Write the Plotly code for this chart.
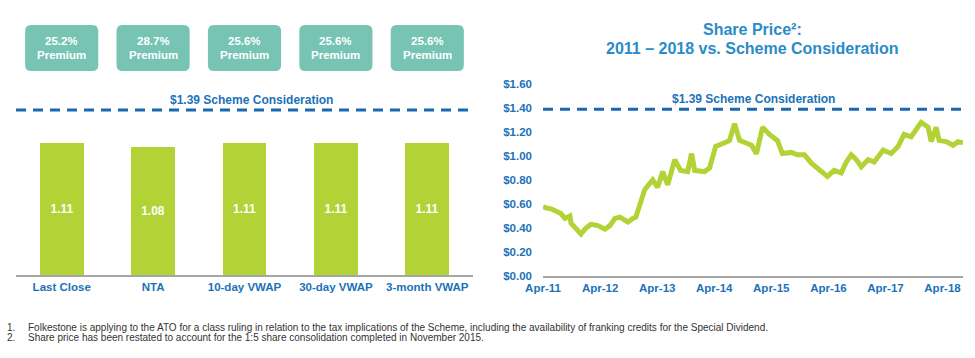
import plotly.graph_objects as go

# ---------------- data ----------------
categories = ["Last Close", "NTA", "10-day VWAP", "30-day VWAP", "3-month VWAP"]
bar_values = [1.11, 1.08, 1.11, 1.11, 1.11]
premiums = ["25.2%", "28.7%", "25.6%", "25.6%", "25.6%"]
scheme_consideration = 1.39

price_dates = [
    "2011-04-01", "2011-04-14", "2011-05-22", "2011-06-23", "2011-07-25", "2011-08-19",
    "2011-09-20", "2011-09-27", "2011-10-29", "2011-11-30", "2012-01-01", "2012-02-01",
    "2012-03-17", "2012-05-01", "2012-06-02", "2012-07-04", "2012-08-05", "2012-09-25",
    "2012-10-27", "2012-11-15", "2012-12-10", "2013-01-11", "2013-03-03", "2013-04-04",
    "2013-05-06", "2013-06-07", "2013-07-22", "2013-08-29", "2013-10-13", "2013-11-07",
    "2013-11-27", "2014-01-29", "2014-03-02", "2014-04-10", "2014-06-06", "2014-07-08",
    "2014-08-09", "2014-09-10", "2014-10-18", "2014-11-25", "2014-12-27", "2015-02-04",
    "2015-03-20", "2015-05-10", "2015-06-11", "2015-08-08", "2015-09-15", "2015-10-30",
    "2015-12-14", "2016-01-14", "2016-02-15", "2016-03-25", "2016-05-08", "2016-06-22",
    "2016-07-24", "2016-08-25", "2016-09-26", "2016-10-28", "2016-12-11", "2017-01-19",
    "2017-03-17", "2017-05-07", "2017-06-21", "2017-07-29", "2017-09-12", "2017-10-27",
    "2017-11-15", "2017-12-30", "2018-01-18", "2018-02-19", "2018-03-10", "2018-04-24",
    "2018-06-07", "2018-07-09", "2018-08-10",
]
price_values = [
    0.58, 0.57, 0.56, 0.54, 0.52, 0.48,
    0.50, 0.44, 0.40, 0.35, 0.40, 0.43,
    0.42, 0.39, 0.42, 0.48, 0.49, 0.45,
    0.48, 0.49, 0.59, 0.72, 0.80, 0.74,
    0.87, 0.76, 0.97, 0.88, 0.87, 1.02,
    0.88, 0.87, 0.90, 1.08, 1.11, 1.13,
    1.27, 1.13, 1.11, 1.09, 1.02, 1.24,
    1.18, 1.13, 1.02, 1.03, 1.01, 1.01,
    0.94, 0.91, 0.87, 0.83, 0.88, 0.86,
    0.95, 1.01, 0.97, 0.91, 0.97, 0.95,
    1.05, 1.02, 1.08, 1.18, 1.16, 1.24,
    1.28, 1.24, 1.12, 1.24, 1.13, 1.12,
    1.09, 1.12, 1.11,
]

year_ticks = ["2011-04-01", "2012-04-01", "2013-04-01", "2014-04-01",
              "2015-04-01", "2016-04-01", "2017-04-01", "2018-04-01"]
price_ticks = [0.0, 0.2, 0.4, 0.6, 0.8, 1.0, 1.2, 1.4, 1.6]

title_lines = ["Share Price\u00b2:", "2011 \u2013 2018 vs. Scheme Consideration"]
scheme_label = "$1.39 Scheme Consideration"
footnotes = [
    ("1.", "Folkestone is applying to the ATO for a class ruling in relation to the tax implications of the Scheme, including the availability of franking credits for the Special Dividend."),
    ("2.", "Share price has been restated to account for the 1:5 share consolidation completed in November 2015."),
]

# ---------------- style ----------------
W, H = 975, 358
GREEN = "#b2d235"
TEAL = "#77c4b5"
BLUE = "#1b72b9"
TITLE_BLUE = "#2b8bc7"
DASH_BLUE = "#1869b0"
AXIS_GREY = "#a6a6a6"
FONT = "Liberation Sans, Arial, sans-serif"


def py(p):
    return 1 - p / H


def px(p):
    return p / W


bar_x = list(range(len(categories)))

fig = go.Figure()
fig.add_trace(go.Bar(
    x=bar_x, y=bar_values, width=0.48, marker=dict(color=GREEN, line=dict(width=0)),
    texttemplate="%{y:.2f}", textposition="inside", insidetextanchor="middle",
    textfont=dict(color="white", size=12, family=FONT, weight="bold"),
    xaxis="x", yaxis="y", hoverinfo="skip",
))
fig.add_trace(go.Scatter(
    x=price_dates, y=price_values, mode="lines",
    line=dict(color=GREEN, width=5), xaxis="x2", yaxis="y2", hoverinfo="skip",
))

shapes = [
    dict(type="line", xref="x domain", yref="y", x0=0, x1=1, y0=scheme_consideration,
         y1=scheme_consideration, line=dict(color=DASH_BLUE, width=3, dash="10px,7px")),
    dict(type="line", xref="x2 domain", yref="y2", x0=0, x1=1.0, y0=scheme_consideration,
         y1=scheme_consideration, line=dict(color=DASH_BLUE, width=3, dash="10px,7px")),
]

# premium boxes (rounded), one per category
hw = 0.40
rx = 6 / 91.4
y_top, y_bot = py(25), py(71)
ry = 6 / H
annotations = []
box_font = dict(color="white", size=11.5, family=FONT, weight="bold")
for i, p in zip(bar_x, premiums):
    x0, x1 = i - hw, i + hw
    path = (f"M {x0+rx},{y_top} L {x1-rx},{y_top} Q {x1},{y_top} {x1},{y_top-ry} "
            f"L {x1},{y_bot+ry} Q {x1},{y_bot} {x1-rx},{y_bot} L {x0+rx},{y_bot} "
            f"Q {x0},{y_bot} {x0},{y_bot+ry} L {x0},{y_top-ry} Q {x0},{y_top} {x0+rx},{y_top} Z")
    shapes.append(dict(type="path", xref="x", yref="paper", path=path,
                       fillcolor=TEAL, line=dict(width=0), layer="above"))
    annotations.append(dict(x=i, y=py(41), xref="x", yref="paper", text=p, showarrow=False,
                            font=box_font, yanchor="middle", height=12, borderpad=0))
    annotations.append(dict(x=i, y=py(54.5), xref="x", yref="paper", text="Premium", showarrow=False,
                            font=box_font, yanchor="middle", height=12, borderpad=0))

# scheme consideration labels
annotations.append(dict(x=0.5, xref="x domain", y=scheme_consideration, yref="y", yanchor="bottom",
                        xshift=7, yshift=1, text=scheme_label, showarrow=False,
                        font=dict(color=BLUE, size=12, family=FONT, weight="bold")))
annotations.append(dict(x=0.5, xref="x2 domain", y=scheme_consideration, yref="y2", yanchor="bottom",
                        yshift=1, text=scheme_label, showarrow=False,
                        font=dict(color=BLUE, size=12, family=FONT, weight="bold")))

# right title
for txt, yy in zip(title_lines, [30, 48.5]):
    annotations.append(dict(x=px(752), y=py(yy), xref="paper", yref="paper", text=txt,
                            showarrow=False, yanchor="middle", xanchor="center",
                            font=dict(color=TITLE_BLUE, size=16, family=FONT, weight="bold")))

# footnotes
for (num, txt), yy in zip(footnotes, [327, 337]):
    annotations.append(dict(x=px(5), y=py(yy), xref="paper", yref="paper", text=num,
                            showarrow=False, xanchor="left", yanchor="middle",
                            font=dict(color="#333333", size=10, family=FONT)))
    annotations.append(dict(x=px(26), y=py(yy), xref="paper", yref="paper", text=txt,
                            showarrow=False, xanchor="left", yanchor="middle",
                            font=dict(color="#333333", size=10, family=FONT)))

tickfont = dict(color=BLUE, size=11.5, family=FONT, weight="bold")

fig.update_layout(
    width=W, height=H,
    margin=dict(l=0, r=0, t=0, b=0, pad=0, autoexpand=False),
    paper_bgcolor="white", plot_bgcolor="white",
    showlegend=False,
    bargap=0,
    font=dict(family=FONT),
    xaxis=dict(domain=[px(16), px(473)], range=[-0.5, 4.5], tickvals=bar_x, ticktext=categories,
               showline=True, linecolor=AXIS_GREY, linewidth=2, ticks="", showgrid=False,
               zeroline=False, tickfont=tickfont, anchor="y", fixedrange=True, automargin=False),
    yaxis=dict(domain=[py(275), py(85)], range=[0, 1.6], visible=False, anchor="x",
               fixedrange=True, automargin=False),
    xaxis2=dict(type="date", domain=[px(543), px(963)], range=["2011-04-01", "2018-08-10"],
                tickvals=year_ticks, tickformat="%b-%y", showline=True, linecolor=AXIS_GREY,
                linewidth=2, ticks="", showgrid=False, zeroline=False, tickfont=tickfont,
                anchor="y2", fixedrange=True, automargin=False),
    yaxis2=dict(domain=[py(276), py(84)], range=[0, 1.6], tickvals=price_ticks, tickformat="$.2f",
                showline=False, ticks="", showgrid=False, zeroline=False, tickfont=tickfont,
                ticklabelstandoff=10, anchor="x2", fixedrange=True, automargin=False),
    shapes=shapes,
    annotations=annotations,
)

fig.write_html("out.html", config={"displayModeBar": False},
               post_script="document.body.style.margin='0';")
